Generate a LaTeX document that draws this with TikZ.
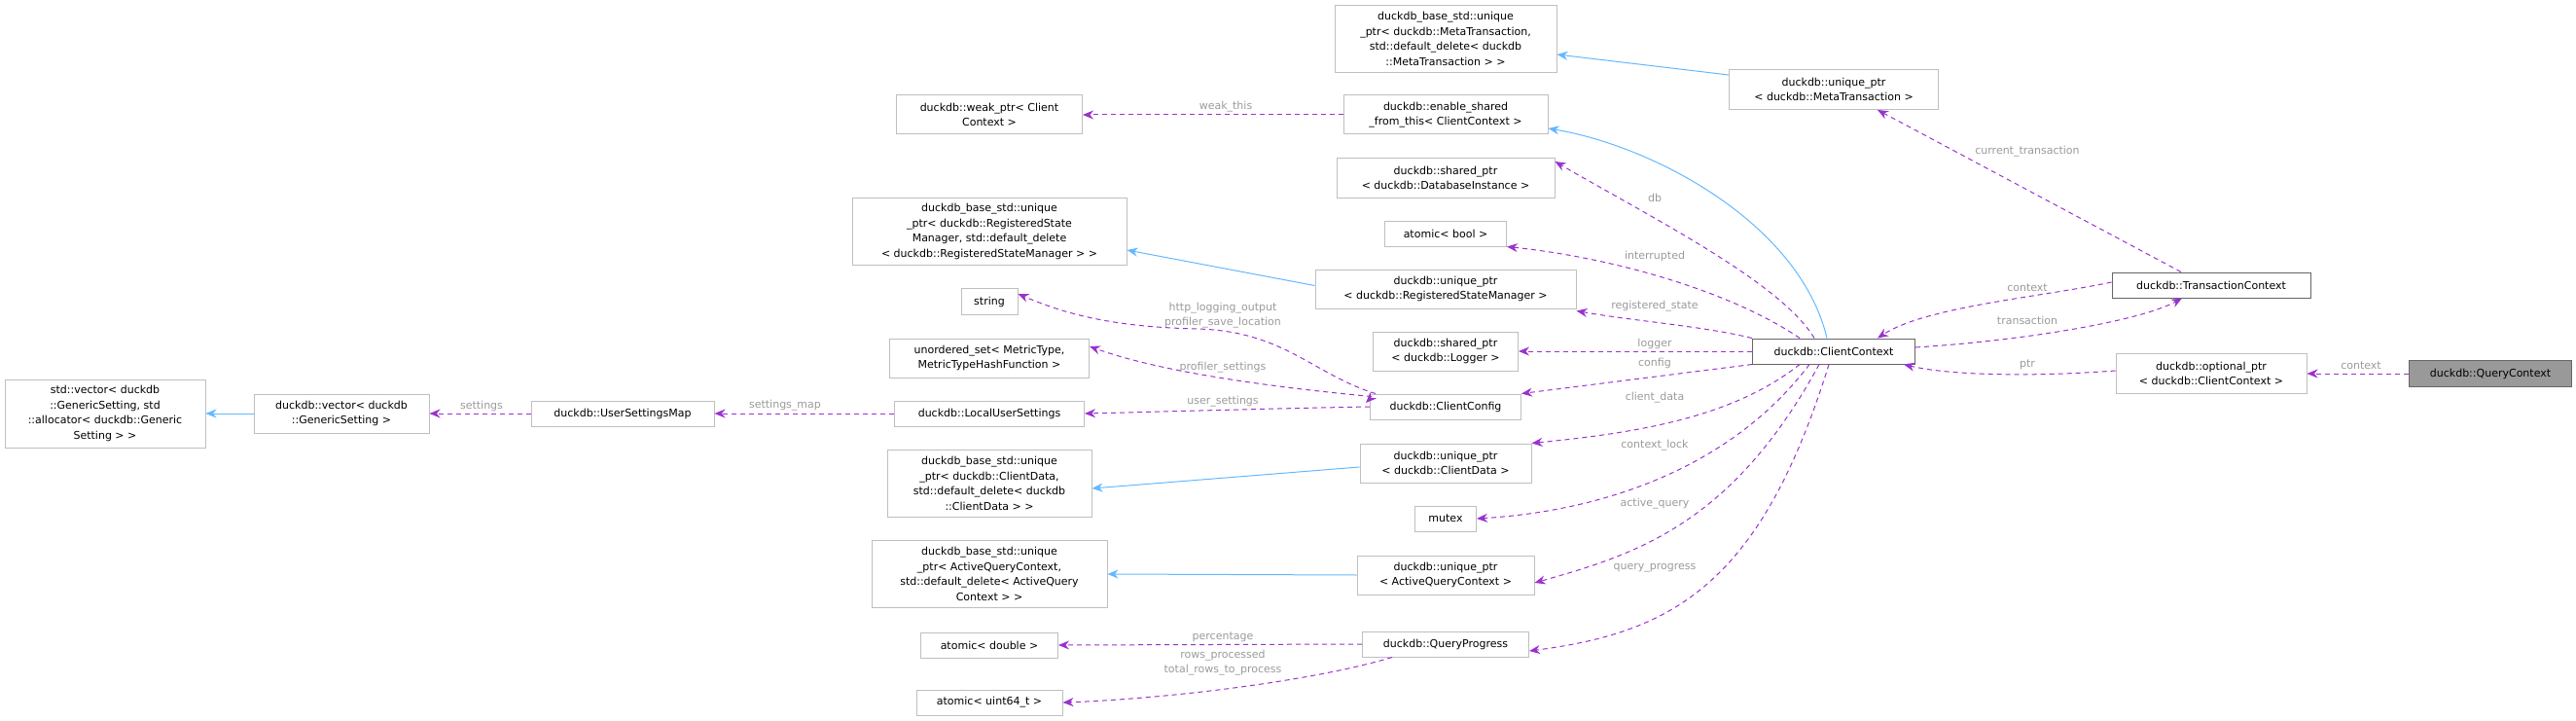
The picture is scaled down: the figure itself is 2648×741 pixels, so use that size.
\documentclass[tikz,border=0pt]{standalone}
\usepackage{fontspec}
\setmainfont{DejaVu Sans}
\usetikzlibrary{arrows.meta}
\definecolor{bord}{HTML}{BFBFBF}
\definecolor{dep}{HTML}{9A32CD}
\definecolor{inh}{HTML}{63B8FF}
\definecolor{lab}{HTML}{9A9A9A}
\tikzset{
 box/.style={draw=bord,fill=white,align=center,inner sep=2pt,font=\fontsize{11}{15.5}\selectfont,line width=1pt},
 dk/.style={draw=black!60},
 dep/.style={draw=dep,dashed,dash pattern=on 5pt off 4pt,line width=1pt,-{Stealth[length=11pt,width=9pt,fill=dep]}},
 inh/.style={draw=inh,line width=1pt,-{Stealth[length=11pt,width=9pt,fill=inh]}},
 lbl/.style={text=lab,align=center,font=\fontsize{11}{15}\selectfont,inner sep=0pt}
}
\begin{document}
\begin{tikzpicture}[x=1pt,y=-1pt]
\useasboundingbox (0,0) rectangle (2648,741);
% nodes
\node[box,minimum width=206,minimum height=70] (vec3) at (108,425) {std::vector< duckdb\\::GenericSetting, std\\::allocator< duckdb::Generic\\Setting > >};
\node[box,minimum width=180,minimum height=40] (vec2) at (351,425) {duckdb::vector< duckdb\\::GenericSetting >};
\node[box,minimum width=188,minimum height=26] (usm) at (640,425) {duckdb::UserSettingsMap};
\node[box,minimum width=195,minimum height=26] (lus) at (1017,425) {duckdb::LocalUserSettings};
\node[box,minimum width=191,minimum height=40] (weak) at (1017,118) {duckdb::weak\_ptr< Client\\Context >};
\node[box,minimum width=282,minimum height=69] (regbase) at (1017,238) {duckdb\_base\_std::unique\\\_ptr< duckdb::RegisteredState\\Manager, std::default\_delete\\< duckdb::RegisteredStateManager > >};
\node[box,minimum width=58,minimum height=27] (str) at (1017,310) {string};
\node[box,minimum width=205,minimum height=40] (uset) at (1017,368) {unordered\_set< MetricType,\\MetricTypeHashFunction >};
\node[box,minimum width=210,minimum height=69] (cdbase) at (1017,497) {duckdb\_base\_std::unique\\\_ptr< duckdb::ClientData,\\std::default\_delete< duckdb\\::ClientData > >};
\node[box,minimum width=242,minimum height=69] (aqbase) at (1017,590) {duckdb\_base\_std::unique\\\_ptr< ActiveQueryContext,\\std::default\_delete< ActiveQuery\\Context > >};
\node[box,minimum width=141,minimum height=26] (adbl) at (1017,663) {atomic< double >};
\node[box,minimum width=150,minimum height=26] (auint) at (1017,722) {atomic< uint64\_t >};
\node[box,minimum width=228,minimum height=69] (metabase) at (1486,40) {duckdb\_base\_std::unique\\\_ptr< duckdb::MetaTransaction,\\std::default\_delete< duckdb\\::MetaTransaction > >};
\node[box,minimum width=210,minimum height=40] (enable) at (1486,118) {duckdb::enable\_shared\\\_from\_this< ClientContext >};
\node[box,minimum width=224,minimum height=40] (sdb) at (1486,183) {duckdb::shared\_ptr\\< duckdb::DatabaseInstance >};
\node[box,minimum width=125,minimum height=26] (abool) at (1486,240) {atomic< bool >};
\node[box,minimum width=268,minimum height=40] (ureg) at (1486,297) {duckdb::unique\_ptr\\< duckdb::RegisteredStateManager >};
\node[box,minimum width=149,minimum height=40] (slog) at (1486,361) {duckdb::shared\_ptr\\< duckdb::Logger >};
\node[box,minimum width=155,minimum height=26] (ccfg) at (1486,418) {duckdb::ClientConfig};
\node[box,minimum width=176,minimum height=40] (ucd) at (1486,476) {duckdb::unique\_ptr\\< duckdb::ClientData >};
\node[box,minimum width=63,minimum height=26] (mutex) at (1486,533) {mutex};
\node[box,minimum width=182,minimum height=40] (uaq) at (1486,591) {duckdb::unique\_ptr\\< ActiveQueryContext >};
\node[box,minimum width=171,minimum height=26] (qprog) at (1486,662) {duckdb::QueryProgress};
\node[box,dk,minimum width=167,minimum height=26] (cc) at (1885,361) {duckdb::ClientContext};
\node[box,minimum width=215,minimum height=41] (umeta) at (1885,92) {duckdb::unique\_ptr\\< duckdb::MetaTransaction >};
\node[box,dk,minimum width=204,minimum height=26] (tc) at (2273,293) {duckdb::TransactionContext};
\node[box,minimum width=196,minimum height=41] (optr) at (2273,384) {duckdb::optional\_ptr\\< duckdb::ClientContext >};
\node[box,draw=black!60,fill=black!40,minimum width=167,minimum height=27] (qc) at (2560,384) {duckdb::QueryContext};
% inheritance
\draw[inh] (vec2.west) -- (vec3.east);
\draw[inh] ([yshift=-17]ureg.north west) -- ([yshift=-19]regbase.east);
\draw[inh] ([yshift=-4]ucd.west) -- ([yshift=-5]cdbase.east);
\draw[inh] (uaq.west) -- (aqbase.east);
\draw[inh] ([yshift=15]umeta.west) -- ([yshift=-16]metabase.east);
\draw[inh] ([xshift=-7]cc.north) .. controls (1850,230) and (1700,150) .. ([yshift=-14]enable.east);
% dependencies left
\draw[dep] (usm.west) -- (vec2.east);
\draw[dep] (lus.west) -- (lus.west -| usm.east) ;
\draw[dep] (ccfg.west) .. controls (1300,420) and (1200,423) .. (lus.east);
\draw[dep] ([yshift=8]ccfg.west) -- (1404,414) ;
\draw[dep] ([xshift=2,yshift=-3]ccfg.north west) .. controls (1330,400) and (1200,385) .. ([yshift=12]uset.east);
\draw[dep] ([xshift=6]ccfg.north west) .. controls (1350,385) and (1320,340) .. (1230,338) .. controls (1150,336) and (1100,325) .. ([yshift=8]str.east);
\draw[dep] (enable.west) -- (weak.east);
\draw[dep] (qprog.west) -- (adbl.east);
\draw[dep] ([xshift=-55]qprog.south) .. controls (1350,700) and (1200,718) .. (auint.east);
% dependencies from cc
\draw[dep] ([xshift=-20]cc.north) .. controls (1830,290) and (1700,225) .. ([yshift=17]sdb.east);
\draw[dep] ([xshift=-35]cc.north) .. controls (1780,300) and (1660,265) .. (abool.south east);
\draw[dep] (cc.north west) .. controls (1750,335) and (1680,330) .. ([yshift=-2]ureg.south east);
\draw[dep] (cc.west) -- (slog.east);
\draw[dep] (cc.south west) -- (ccfg.north east);
\draw[dep] ([xshift=-35]cc.south) .. controls (1780,430) and (1680,445) .. (ucd.north east);
\draw[dep] ([xshift=-25]cc.south) .. controls (1780,480) and (1650,525) .. (mutex.east);
\draw[dep] ([xshift=-15]cc.south) .. controls (1780,540) and (1680,570) .. ([yshift=-8]uaq.east);
\draw[dep] ([xshift=-5]cc.south) .. controls (1810,600) and (1720,650) .. ([yshift=-7]qprog.east);
% right
\draw[dep] ([xshift=-31]tc.north) -- ([xshift=45]umeta.south);
\draw[dep] ([yshift=3]tc.west) .. controls (2100,305) and (1980,315) .. ([xshift=45]cc.north);
\draw[dep] ([yshift=4]cc.east) .. controls (2080,350) and (2200,330) .. ([xshift=-30]tc.south);
\draw[dep] ([yshift=3]optr.west) .. controls (2080,388) and (2000,385) .. ([xshift=72]cc.south);
\draw[dep] (qc.west) -- (optr.east);
% labels
\node[lbl] (l1) at (495,417) {settings};
\node[lbl] (l2) at (807,417) {settings\_map};
\node[lbl] (l3) at (1257,413) {user\_settings};
\node[lbl] (l4) at (1257,378) {profiler\_settings};
\node[lbl] (l5) at (1257,324) {http\_logging\_output\\profiler\_save\_location};
\node[lbl] (l6) at (1260,110) {weak\_this};
\node[lbl] (l7) at (1257,655) {percentage};
\node[lbl] (l8) at (1257,681) {rows\_processed\\total\_rows\_to\_process};
\node[lbl] (l9) at (1701,203) {db};
\node[lbl] (l10) at (1701,263) {interrupted};
\node[lbl] (l11) at (1701,315) {registered\_state};
\node[lbl] (l12) at (1701,353) {logger};
\node[lbl] (l13) at (1701,373) {config};
\node[lbl] (l14) at (1701,409) {client\_data};
\node[lbl] (l15) at (1701,458) {context\_lock};
\node[lbl] (l16) at (1701,518) {active\_query};
\node[lbl] (l17) at (1701,584) {query\_progress};
\node[lbl] (l18) at (2084,156) {current\_transaction};
\node[lbl] (l19) at (2084,296) {context};
\node[lbl] (l20) at (2084,329) {transaction};
\node[lbl] (l21) at (2084,375) {ptr};
\node[lbl] (l22) at (2427,376) {context};
\end{tikzpicture}
\end{document}
